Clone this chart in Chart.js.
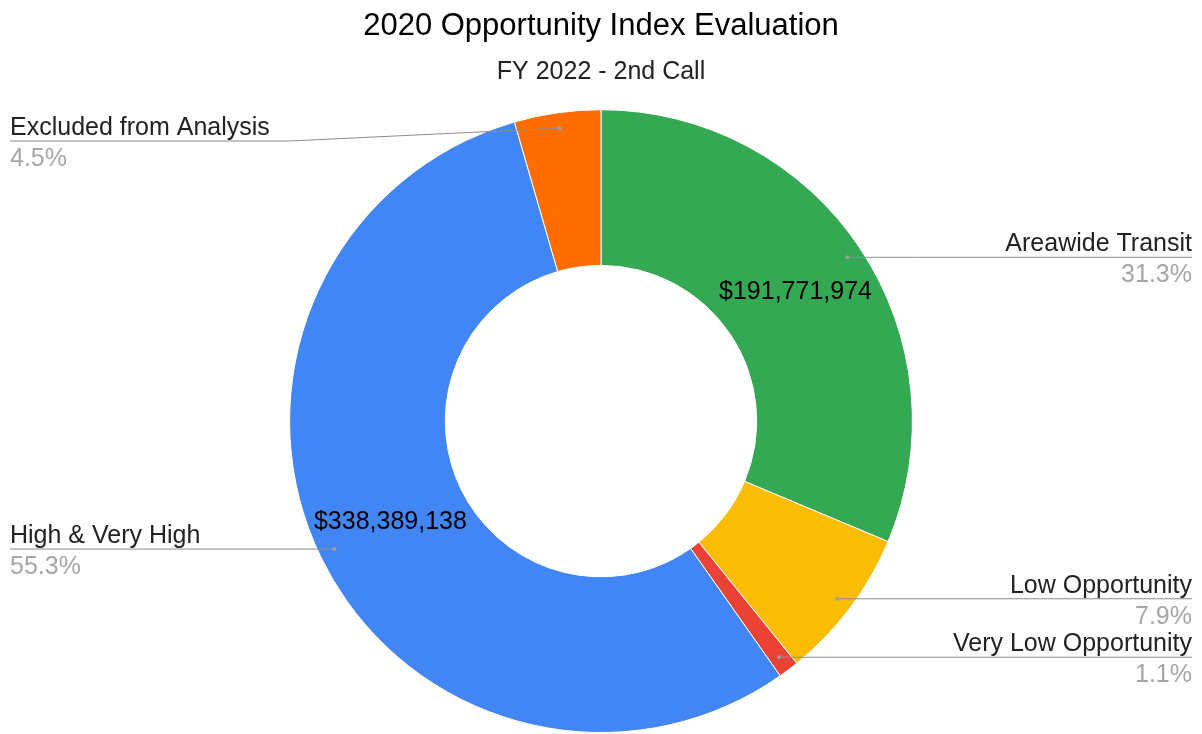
<!DOCTYPE html>
<html>
<head>
<meta charset="utf-8">
<title>2020 Opportunity Index Evaluation</title>
<script src="https://cdn.jsdelivr.net/npm/chart.js@4/dist/chart.umd.min.js"></script>
<style>
  html, body { margin: 0; padding: 0; background: #fff; }
  #wrap { width: 1202px; height: 734px; position: relative; }
</style>
</head>
<body>
<div id="wrap"><canvas id="opportunityChart"></canvas></div>
<script>
// Slices, clockwise from 12 o'clock
const categories = ['Areawide Transit', 'Low Opportunity', 'Very Low Opportunity', 'High & Very High', 'Excluded from Analysis'];
const amounts = [191771974, 48100000, 6500000, 338389138, 27440000];
const sliceColors = ['#34a853', '#fbbc04', '#ea4335', '#4285f4', '#ff6d01'];

const FONT = '"Liberation Sans", Arial, sans-serif';
Chart.defaults.font.family = FONT;

// callout labels + amount labels inside the large slices
const calloutPlugin = {
    id: 'callouts',
    afterDatasetsDraw(chart) {
        const ctx = chart.ctx;
        const meta = chart.getDatasetMeta(0);
        const data = chart.data.datasets[0].data;
        const total = data.reduce((a, b) => a + b, 0);
        const leftX = 10, rightX = 1192, minLineY = 141;

        meta.data.forEach((arc, i) => {
            const { x, y, startAngle, endAngle, outerRadius, innerRadius } = arc.getProps(['x', 'y', 'startAngle', 'endAngle', 'outerRadius', 'innerRadius'], true);
            const mid = (startAngle + endAngle) / 2;
            const share = data[i] / total;
            const right = Math.cos(mid) >= 0;

            // amount in the ring for big slices
            if (share > 0.15) {
                const rm = (outerRadius + innerRadius) / 2;
                ctx.save();
                ctx.font = '25px ' + FONT;
                ctx.fillStyle = '#000';
                ctx.textAlign = 'center';
                ctx.textBaseline = 'middle';
                ctx.fillText('$' + data[i].toLocaleString('en-US'), x + Math.cos(mid) * rm, y + Math.sin(mid) * rm);
                ctx.restore();
            }

            const rd = outerRadius * 0.95;
            const dx = x + Math.cos(mid) * rd;
            const dy = y + Math.sin(mid) * rd;
            const lineY = Math.max(dy, minLineY);
            const elbowX = right ? x + outerRadius : x - outerRadius;
            const endX = right ? rightX : leftX;

            ctx.save();
            ctx.strokeStyle = '#8c8c8c';
            ctx.lineWidth = 1;
            ctx.beginPath();
            ctx.moveTo(dx, dy);
            if (right ? elbowX > dx : elbowX < dx) ctx.lineTo(elbowX, lineY);
            ctx.lineTo(endX, lineY);
            ctx.stroke();

            ctx.fillStyle = '#9e9e9e';
            ctx.beginPath();
            ctx.arc(dx, dy, 2, 0, Math.PI * 2);
            ctx.fill();

            ctx.textAlign = right ? 'right' : 'left';
            ctx.textBaseline = 'alphabetic';
            ctx.font = '25px ' + FONT;
            ctx.fillStyle = '#222';
            ctx.fillText(chart.data.labels[i], endX, lineY - 6);
            ctx.fillStyle = '#a6a6a6';
            ctx.fillText((share * 100).toFixed(1) + '%', endX, lineY + 25);
            ctx.restore();
        });
    }
};

const ctx = document.getElementById('opportunityChart').getContext('2d');
new Chart(ctx, {
    type: 'doughnut',
    data: {
        labels: categories,
        datasets: [{
            data: amounts,
            backgroundColor: sliceColors,
            borderColor: '#ffffff',
            borderWidth: 1,
            hoverOffset: 0
        }]
    },
    options: {
        responsive: true,
        maintainAspectRatio: false,
        animation: false,
        cutout: '50%',
        layout: { padding: { top: 0, bottom: 1, left: 0, right: 0 } },
        plugins: {
            legend: { display: false },
            tooltip: { enabled: false },
            title: {
                display: true,
                text: '2020 Opportunity Index Evaluation',
                color: '#000',
                font: { size: 31, weight: 'normal' },
                padding: { top: 8, bottom: 8 }
            },
            subtitle: {
                display: true,
                text: 'FY 2022 - 2nd Call',
                color: '#222',
                font: { size: 25, weight: 'normal' },
                padding: { top: 4, bottom: 22 }
            }
        }
    },
    plugins: [calloutPlugin]
});
</script>
</body>
</html>
